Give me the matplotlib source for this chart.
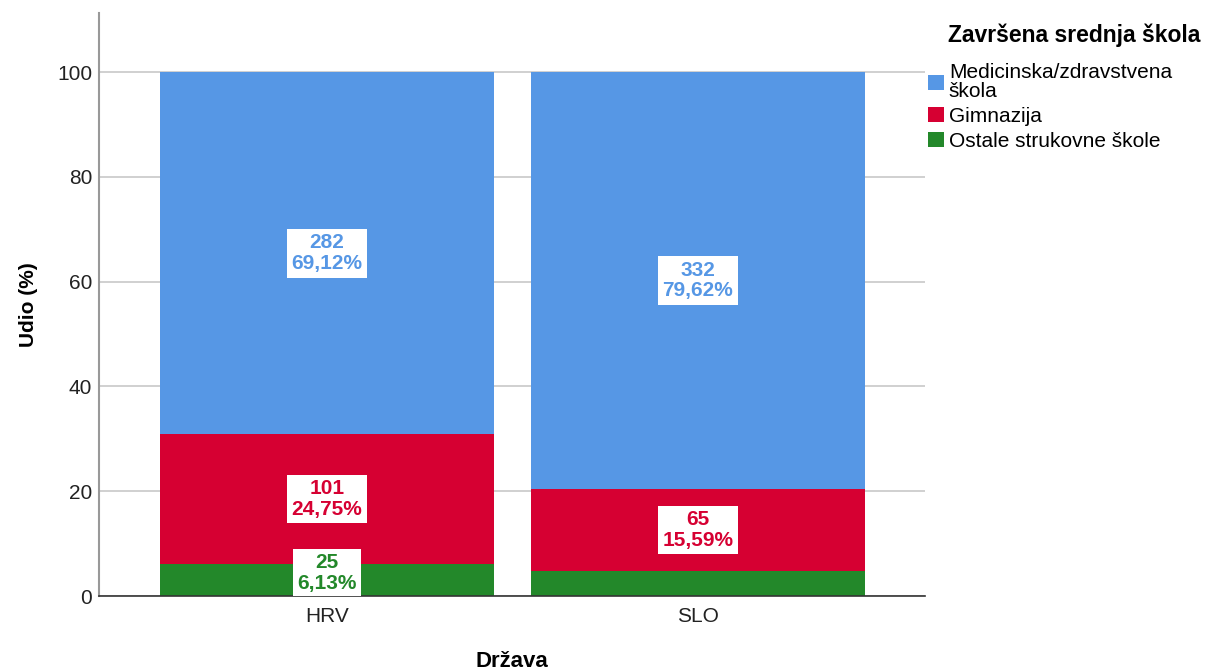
import numpy as np
import matplotlib.pyplot as plt
from matplotlib.patches import Patch

plt.rcParams['font.family'] = ['Liberation Sans', 'DejaVu Sans']

# Data
countries = ["HRV", "SLO"]
categories = ["Ostale strukovne škole", "Gimnazija", "Medicinska/zdravstvena\nškola"]
counts = {
    "Ostale strukovne škole": [25, 20],
    "Gimnazija": [101, 65],
    "Medicinska/zdravstvena\nškola": [282, 332],
}
show_label = {
    "Ostale strukovne škole": [True, False],
    "Gimnazija": [True, True],
    "Medicinska/zdravstvena\nškola": [True, True],
}
colors = {
    "Ostale strukovne škole": "#23882A",
    "Gimnazija": "#D60032",
    "Medicinska/zdravstvena\nškola": "#5697E5",
}

totals = np.sum([counts[c] for c in categories], axis=0)

fig = plt.figure(figsize=(12.11, 6.70), dpi=100)
ax = fig.add_axes([0.0818, 0.1104, 0.6820, 0.8702])

x = np.arange(len(countries))
bottom = np.zeros(len(countries))
for cat in categories:
    pct = np.array(counts[cat]) / totals * 100
    ax.bar(x, pct, width=0.9, bottom=bottom, color=colors[cat], zorder=2)
    for i in range(len(countries)):
        if not show_label[cat][i]:
            continue
        # small segments: keep the label lifted off the baseline
        ymid = max(bottom[i] + pct[i] / 2, 4.4)
        txt = f"{counts[cat][i]}\n{pct[i]:.2f}%".replace(".", ",")
        ax.text(x[i], ymid, txt, ha="center", va="center", fontsize=15,
                fontweight="bold", color=colors[cat], linespacing=1.1,
                bbox=dict(boxstyle="square,pad=0.22", fc="white", ec="none"),
                zorder=4, clip_on=True)
    bottom += pct

ax.set_xlim(-0.614, 1.612)
ax.set_ylim(0, 111.3)
ax.set_yticks([0, 20, 40, 60, 80, 100])
ax.set_xticks(x)
ax.set_xticklabels(countries)
ax.tick_params(axis="y", length=0, labelsize=15, colors="#222222", pad=5)
ax.tick_params(axis="x", length=0, labelsize=15, colors="#222222", pad=8)
ax.yaxis.grid(True, color="#c8c8c8", linewidth=1.2, zorder=1)
ax.set_axisbelow(True)

for s in ["top", "right"]:
    ax.spines[s].set_visible(False)
ax.spines["left"].set_color("#999999")
ax.spines["left"].set_linewidth(1.5)
ax.spines["bottom"].set_color("#333333")
ax.spines["bottom"].set_linewidth(1.2)

ax.text(-0.086, 0.5, "Udio (%)", transform=ax.transAxes, rotation=90,
        ha="center", va="center", fontsize=15, fontweight="bold")
fig.text(0.4228, 0.004, "Država", ha="center", va="baseline",
         fontsize=16, fontweight="bold")

handles = [Patch(facecolor=colors[c]) for c in categories[::-1]]
leg = fig.legend(handles, categories[::-1], loc="upper left",
                 bbox_to_anchor=(0.7663, 0.906), frameon=False, fontsize=15,
                 handlelength=0.75, handleheight=0.75, handletextpad=0.25,
                 labelspacing=0.28, borderpad=0.0, borderaxespad=0.0)
for t in leg.get_texts():
    t.set_linespacing(1.0)
fig.text(0.783, 0.948, "Završena srednja škola", fontsize=16.5,
         fontweight="bold", ha="left", va="center")

plt.savefig("out.png", dpi=100)
